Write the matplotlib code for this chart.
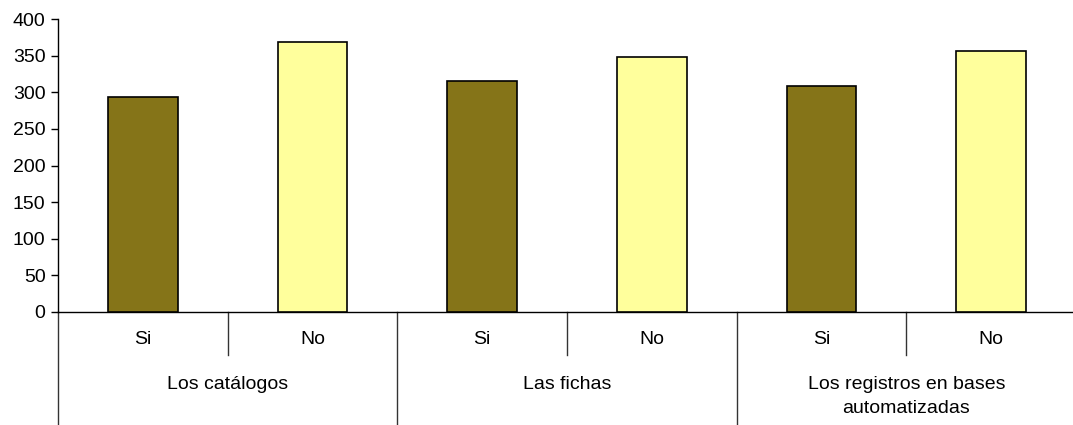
import matplotlib
matplotlib.use("Agg")
import matplotlib.pyplot as plt
import matplotlib.transforms as mtransforms

plt.rcParams['font.family'] = ['Liberation Sans', 'DejaVu Sans']

groups = ["Los catálogos", "Las fichas", "Los registros en bases\nautomatizadas"]
subcats = ["Si", "No"]
values = [293, 368, 316, 348, 309, 356]
colors = ["#857418", "#FFFF9C"]
yticks = [0, 50, 100, 150, 200, 250, 300, 350, 400]

FS = 14
W, H = 1073, 425
fig = plt.figure(figsize=(W / 100, H / 100), dpi=100)
fig.patch.set_facecolor('white')
left, right, top, bottom = 58, 1076, 19, 312
ax = fig.add_axes([left / W, (H - bottom) / H, (right - left) / W, (bottom - top) / H])

n = len(values)
xs = list(range(n))
bar_colors = [colors[i % 2] for i in range(n)]
ax.bar(xs, values, width=0.41, color=bar_colors, edgecolor='black', linewidth=1.2, zorder=3)

ax.set_xlim(-0.5, n - 0.5)
ax.set_ylim(0, 400)
ax.set_yticks(yticks)
ax.set_yticklabels([str(v) for v in yticks], fontsize=FS)
ax.tick_params(axis='y', direction='out', length=5, width=1, pad=4)
ax.set_xticks([])
for s in ['top', 'right']:
    ax.spines[s].set_visible(False)
for s in ['left', 'bottom']:
    ax.spines[s].set_linewidth(1)

trans = mtransforms.blended_transform_factory(ax.transData, ax.transAxes)
px = 1.0 / (bottom - top)
sub_bot = -(355 - bottom) * px
grp_bot = -(H + 5 - bottom) * px

# sub-category labels and separators
for i in range(n):
    ax.text(i, -(340 - bottom) * px, subcats[i % 2], transform=trans,
            ha='center', va='center', fontsize=FS)
for g in range(len(groups)):
    mid = 2 * g + 0.5
    ax.plot([mid, mid], [0, sub_bot], transform=trans, color='#333333', lw=1, clip_on=False)
# group separators
for g in range(len(groups) + 1):
    xb = 2 * g - 0.5
    ax.plot([xb, xb], [0, grp_bot], transform=trans, color='#333333', lw=1, clip_on=False)
for g, name in enumerate(groups):
    ax.text(2 * g + 0.5, -(376 - bottom) * px, name, transform=trans,
            ha='center', va='top', fontsize=FS, linespacing=1.55)

fig.savefig("out.png", dpi=100)
